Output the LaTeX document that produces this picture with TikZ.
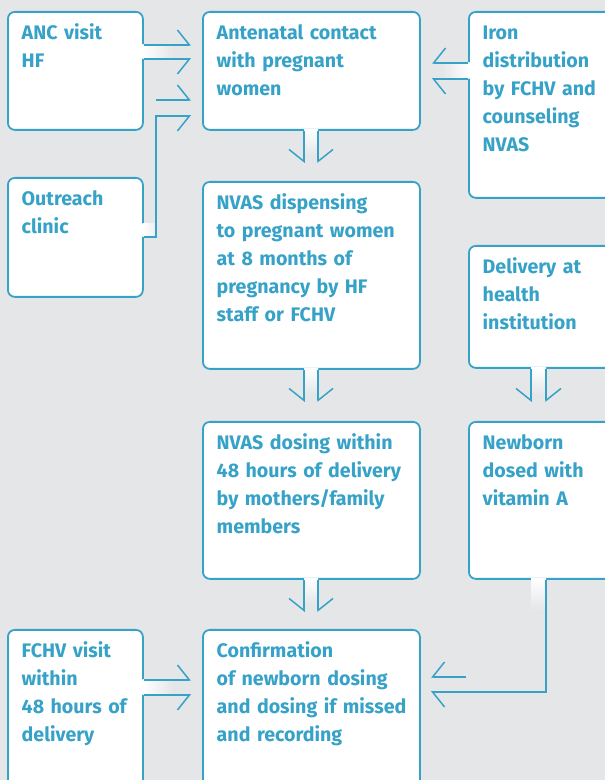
\documentclass[tikz,border=0pt]{standalone}
\usepackage{fontspec}
\setmainfont{Fira Sans}
\usetikzlibrary{calc,arrows.meta}
\definecolor{flowblue}{RGB}{54,162,199}
\definecolor{pagegrey}{RGB}{229,230,232}
\tikzset{
  box/.style={draw=flowblue,line width=1.8bp,rounded corners=7bp,fill=white,anchor=north west,inner sep=0pt},
  txt/.style={anchor=base west,inner sep=0pt,text width=200bp,align=left,text=flowblue,
    font=\bfseries\fontsize{19.6bp}{28bp}\selectfont},
  pipe/.style={draw=flowblue,line width=1.5bp},
  barbl/.style={-{Straight Barb[harpoon,length=12bp,width=30bp]}},
  barbr/.style={-{Straight Barb[harpoon,swap,length=12bp,width=30bp]}},
}
\begin{document}
\begin{tikzpicture}
\useasboundingbox (0bp,0bp) rectangle (605bp,780bp);
\clip (0bp,0bp) rectangle (605bp,780bp);
\fill[pagegrey] (0bp,0bp) rectangle (605bp,780bp);
%% boxes
\node (anc_hf) at (7bp,769bp) [box,minimum width=135bp,minimum height=118bp] {};
\node (anc_contact) at (202bp,769bp) [box,minimum width=217bp,minimum height=118bp] {};
\node (iron) at (468bp,769bp) [box,minimum width=152bp,minimum height=186bp] {};
\node (outreach) at (7bp,603bp) [box,minimum width=135bp,minimum height=119bp] {};
\node (nvas_disp) at (202bp,599bp) [box,minimum width=217bp,minimum height=187bp] {};
\node (delivery) at (468bp,535bp) [box,minimum width=152bp,minimum height=122bp] {};
\node (nvas_dose) at (202bp,359bp) [box,minimum width=217bp,minimum height=157bp] {};
\node (newborn) at (468bp,359bp) [box,minimum width=152bp,minimum height=157bp] {};
\node (fchv) at (7bp,151bp) [box,minimum width=135bp,minimum height=175bp] {};
\node (confirm) at (202bp,151bp) [box,minimum width=217bp,minimum height=175bp] {};
%% texts
\node (anc_hf_t) at ($(anc_hf.north west)+(14.5bp,-29bp)$) [txt] {ANC visit\\HF};
\node (anc_contact_t) at ($(anc_contact.north west)+(14.5bp,-29bp)$) [txt] {Antenatal contact\\with pregnant\\women};
\node (iron_t) at ($(iron.north west)+(14.5bp,-29bp)$) [txt] {Iron\\distribution\\by FCHV and\\counseling\\NVAS};
\node (outreach_t) at ($(outreach.north west)+(14.5bp,-29bp)$) [txt] {Outreach\\clinic};
\node (nvas_disp_t) at ($(nvas_disp.north west)+(14.5bp,-29bp)$) [txt] {NVAS dispensing\\to pregnant women\\at 8 months of\\pregnancy by HF\\staff or FCHV};
\node (delivery_t) at ($(delivery.north west)+(14.5bp,-29bp)$) [txt] {Delivery at\\health\\institution};
\node (nvas_dose_t) at ($(nvas_dose.north west)+(14.5bp,-29bp)$) [txt] {NVAS dosing within\\48 hours of delivery\\by mothers/family\\members};
\node (newborn_t) at ($(newborn.north west)+(14.5bp,-29bp)$) [txt] {Newborn\\dosed with\\vitamin A};
\node (fchv_t) at ($(fchv.north west)+(14.5bp,-29bp)$) [txt] {FCHV visit\\within\\48 hours of\\delivery};
\node (confirm_t) at ($(confirm.north west)+(14.5bp,-29bp)$) [txt] {Confirmation\\of newborn dosing\\and dosing if missed\\and recording};
%% arrow tips and knees
\coordinate (t1u) at (191bp,735bp);
\coordinate (t1d) at (191bp,721bp);
\coordinate (t2u) at (191bp,680bp);
\coordinate (t2d) at (191bp,664bp);
\coordinate (k2) at (156bp,543bp);
\coordinate (t3u) at (432bp,717bp);
\coordinate (t3d) at (432bp,701bp);
\coordinate (t4l) at (304bp,617bp);
\coordinate (t4r) at (318bp,617bp);
\coordinate (t5l) at (304bp,378bp);
\coordinate (t5r) at (318bp,378bp);
\coordinate (t6l) at (531bp,378bp);
\coordinate (t6r) at (546bp,378bp);
\coordinate (t7l) at (304bp,168bp);
\coordinate (t7r) at (318bp,168bp);
\coordinate (t8u) at (191bp,100bp);
\coordinate (t8d) at (191bp,85bp);
\coordinate (k9) at (546bp,88bp);
\coordinate (s9) at (531bp,170bp);
\coordinate (s9u) at (466bp,103bp);
\coordinate (t9u) at (431bp,103bp);
\coordinate (t9d) at (431bp,88bp);
%% fades
\shade[left color=white,right color=pagegrey] ($(anc_hf.east |- t1u)+(-1.5bp,0)$) rectangle ($(t1d)+(-18bp,0)$);
\shade[left color=white,right color=pagegrey!70!white] ($(outreach.east |- k2)+(-1.5bp,0)$) rectangle ($(k2)+(0,13bp)$);
\shade[left color=pagegrey,right color=white] ($(t3d)+(10bp,0)$) rectangle ($(iron.west |- t3u)+(1.5bp,0)$);
\shade[top color=white,bottom color=pagegrey] ($(anc_contact.south -| t4l)+(0,1.5bp)$) rectangle ($(t4r)+(0,8bp)$);
\shade[top color=white,bottom color=pagegrey] ($(nvas_disp.south -| t5l)+(0,1.5bp)$) rectangle ($(t5r)+(0,8bp)$);
\shade[top color=white,bottom color=pagegrey] ($(delivery.south -| t6l)+(0,1.5bp)$) rectangle ($(t6r)+(0,8bp)$);
\shade[top color=white,bottom color=pagegrey] ($(nvas_dose.south -| t7l)+(0,1.5bp)$) rectangle ($(t7r)+(0,8bp)$);
\shade[left color=white,right color=pagegrey] ($(fchv.east |- t8u)+(-1.5bp,0)$) rectangle ($(t8d)+(-18bp,0)$);
\shade[top color=white,bottom color=pagegrey] ($(newborn.south -| k9)+(0,1.5bp)$) rectangle (s9);
%% hollow arrows
\draw [pipe,barbl] (anc_hf.east |- t1u) -- (t1u);
\draw [pipe,barbr] (anc_hf.east |- t1d) -- (t1d);
\draw [pipe,barbl] (k2 |- t2u) -- (t2u);
\draw [pipe,barbr] (outreach.east |- k2) -- (k2) -- (k2 |- t2d) -- (t2d);
\draw [pipe,barbr] (iron.west |- t3u) -- (t3u);
\draw [pipe,barbl] (iron.west |- t3d) -- (t3d);
\draw [pipe,barbr] (anc_contact.south -| t4l) -- (t4l);
\draw [pipe,barbl] (anc_contact.south -| t4r) -- (t4r);
\draw [pipe,barbr] (nvas_disp.south -| t5l) -- (t5l);
\draw [pipe,barbl] (nvas_disp.south -| t5r) -- (t5r);
\draw [pipe,barbr] (delivery.south -| t6l) -- (t6l);
\draw [pipe,barbl] (delivery.south -| t6r) -- (t6r);
\draw [pipe,barbr] (nvas_dose.south -| t7l) -- (t7l);
\draw [pipe,barbl] (nvas_dose.south -| t7r) -- (t7r);
\draw [pipe,barbl] (fchv.east |- t8u) -- (t8u);
\draw [pipe,barbr] (fchv.east |- t8d) -- (t8d);
\draw [pipe,barbr] (s9u) -- (t9u);
\draw [pipe,barbl] (newborn.south -| k9) -- (k9) -- (t9d);
%
\end{tikzpicture}
\end{document}
